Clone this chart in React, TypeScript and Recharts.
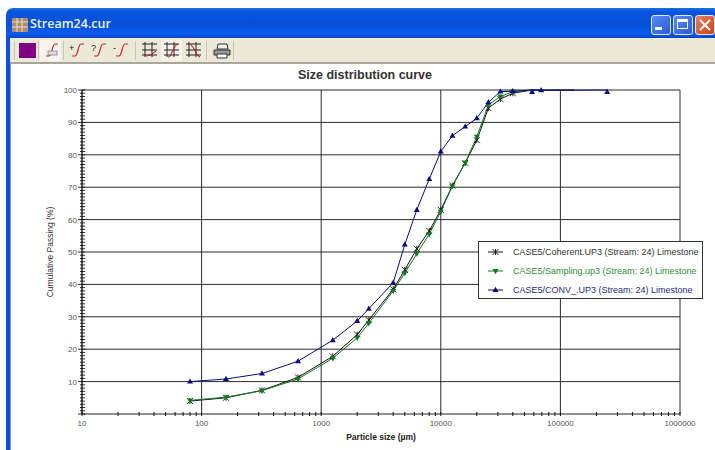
import React from "react";
import {
  LineChart,
  Line,
  XAxis,
  YAxis,
  CartesianGrid,
  Legend,
} from "recharts";

const sizes = [80, 160, 320, 640, 1250, 2000, 2500, 4000, 5000, 6300, 8000, 10000, 12500, 16000, 20000, 25000, 31500, 40000, 58000, 69000];
const coherentSizes = [...sizes, 130000];
const conventionalSizes = [...sizes, 246000];

const coherent = [4, 5, 7.3, 11.3, 17.8, 24.5, 29, 38.5, 44.5, 51, 56.5, 63, 70.5, 77.5, 84.5, 94.4, 97.2, 99, 100, 100, 100];
const sampling = [4.2, 5.2, 7.2, 10.8, 17.2, 23.5, 28, 38, 43.5, 49.5, 55.5, 62.5, 70.3, 77.5, 85.6, 95.4, 98, 99.5, 100, 100];
const conventional = [10, 10.8, 12.5, 16.3, 22.8, 28.7, 32.5, 40.5, 52.3, 63, 72.5, 81, 85.9, 88.7, 91.3, 96.2, 99.5, 99.6, 100, 99.9, 100];

const seriesNames = [
  "CASE5/Coherent.UP3 (Stream: 24) Limestone",
  "CASE5/Sampling.up3 (Stream: 24) Limestone",
  "CASE5/CONV_.UP3 (Stream: 24) Limestone",
];
const seriesColors = ["#111111", "#0f7a1e", "#0b0b80"];
const seriesMarkers = ["star", "down", "up"];

const majorX = [10, 100, 1000, 10000, 100000, 1000000];
const minorSteps = [1, 2, 3, 4, 5, 6, 7, 8, 9];
const allX = majorX.flatMap((d) => (d === 1000000 ? [d] : minorSteps.map((s) => s * d)));
const majorY = [10, 20, 30, 40, 50, 60, 70, 80, 90, 100];
const allY = Array.from({ length: 101 }, (_, i) => i);

const toRows = (xs: number[], ys: number[]) => xs.map((size, i) => ({ size, pct: ys[i] }));

const font = "'Liberation Sans', Arial, sans-serif";

function Marker({ kind, cx, cy, color }: { kind: string; cx: number; cy: number; color: string }) {
  if (kind === "up") {
    return <path d={`M${cx} ${cy - 3.2}L${cx + 3} ${cy + 2}L${cx - 3} ${cy + 2}Z`} fill={color} />;
  }
  if (kind === "down") {
    return <path d={`M${cx} ${cy + 3.2}L${cx + 3} ${cy - 2}L${cx - 3} ${cy - 2}Z`} fill={color} />;
  }
  return (
    <path
      d={`M${cx - 3} ${cy - 3}L${cx + 3} ${cy + 3}M${cx + 3} ${cy - 3}L${cx - 3} ${cy + 3}M${cx} ${cy - 3}V${cy + 3}`}
      stroke={color}
      strokeWidth={0.9}
      fill="none"
    />
  );
}

// the markers sitting on the 100% line only show below it in the original
function dotFor(i: number) {
  return (p: any) => {
    const top = p.payload.pct >= 100;
    if (top && i !== 2) return <g key={`${i}-${p.index}`} />;
    return <Marker key={`${i}-${p.index}`} kind={seriesMarkers[i]} cx={p.cx} cy={top ? p.cy + 2 : p.cy} color={seriesColors[i]} />;
  };
}

function XTick(props: any) {
  const { x, y, payload } = props;
  const major = majorX.includes(payload.value);
  return (
    <g>
      <line x1={x} x2={x} y1={y - 2} y2={y + 2} stroke="#111" strokeWidth={1} />
      {major && (
        <text x={x} y={y + 12} textAnchor="middle" fontSize={8} fontFamily={font} fill="#555">
          {payload.value}
        </text>
      )}
    </g>
  );
}

function YTick(props: any) {
  const { x, y, payload } = props;
  const major = majorY.includes(payload.value);
  return (
    <g>
      <line x1={x - (major || payload.value === 0 ? 4 : 2)} x2={x + 3} y1={y} y2={y} stroke="#111" strokeWidth={0.9} />
      {major && (
        <text x={x - 5} y={y + 3} textAnchor="end" fontSize={8} fontFamily={font} fill="#555">
          {payload.value}
        </text>
      )}
    </g>
  );
}

function LegendBox() {
  return (
    <div
      style={{
        boxSizing: "border-box",
        width: 225,
        height: 58,
        background: "#fff",
        border: "1px solid #333",
        fontFamily: font,
        fontSize: 9,
      }}
    >
      {seriesNames.map((name, i) => (
        <div key={name} style={{ display: "flex", alignItems: "center", height: 19, color: seriesColors[i] }}>
          <svg width={34} height={10} style={{ flex: "none" }}>
            <line x1={9} x2={24} y1={5} y2={5} stroke={seriesColors[i]} strokeWidth={1} />
            <Marker kind={seriesMarkers[i]} cx={16.5} cy={5} color={seriesColors[i]} />
          </svg>
          <span style={{ whiteSpace: "nowrap", color: i === 0 ? "#333" : i === 1 ? "#2f8f3a" : "#2a2a80" }}>{name}</span>
        </div>
      ))}
    </div>
  );
}

function Curve({ sign, box }: { sign?: string; box?: boolean }) {
  return (
    <svg width={16} height={18} style={{ display: "block" }}>
      <path d="M3 15H6C9 15 9 3 12 3H15" stroke="#c8242c" strokeWidth={1.2} fill="none" />
      {sign && (
        <text x={0} y={10} fontSize={9} fontFamily={font} fill="#222">
          {sign}
        </text>
      )}
      {box && <rect x={5} y={10} width={9} height={4} fill="#ddd" stroke="#777" strokeWidth={0.7} />}
    </svg>
  );
}

function GridIcon({ variant }: { variant: number }) {
  const curve = ["M5 15C9 15 11 13 15 10", "M5 16C9 16 10 4 15 3", "M4 3C9 3 10 14 15 16"][variant];
  return (
    <svg width={17} height={18} style={{ display: "block" }}>
      <path d="M1 3H16M1 9H16M1 14H16M4 1V16M11 1V16" stroke="#222" strokeWidth={1} fill="none" />
      <path d={curve} stroke="#c8242c" strokeWidth={1.1} fill="none" />
    </svg>
  );
}

function Printer() {
  return (
    <svg width={18} height={16} style={{ display: "block" }}>
      <path d="M5 1H14L15 6H4Z" fill="#eee" stroke="#333" />
      <path d="M1 7H17V12H1Z" fill="#999" stroke="#333" />
      <path d="M4 11H14V15H4Z" fill="#fff" stroke="#333" />
    </svg>
  );
}

function Toolbar() {
  const at = (left: number, top: number, child: React.ReactNode) => (
    <div style={{ position: "absolute", left, top }}>{child}</div>
  );
  const seps = [14, 38, 63, 135, 206, 233];
  return (
    <div
      style={{
        position: "absolute",
        left: 10,
        top: 38,
        width: 705,
        height: 24,
        background: "#ece9d8",
        borderBottom: "2px solid #a8a698",
      }}
    >
      {seps.map((x) => (
        <div key={x} style={{ position: "absolute", left: x - 10, top: 3, width: 1, height: 19, background: "#c8c5b4" }} />
      ))}
      <div style={{ position: "absolute", left: 9, top: 5, width: 17, height: 15, background: "#800080" }} />
      <div style={{ position: "absolute", left: 30, top: 2, width: 21, height: 21, background: "#f6f4ec" }} />
      {at(33, 3, <Curve box />)}
      {at(59, 3, <Curve sign="+" />)}
      {at(81, 3, <Curve sign="?" />)}
      {at(103, 3, <Curve sign="-" />)}
      <div style={{ position: "absolute", left: 151, top: 2, width: 21, height: 21, background: "#f6f4ec" }} />
      {at(131, 3, <GridIcon variant={0} />)}
      {at(153, 3, <GridIcon variant={1} />)}
      {at(175, 3, <GridIcon variant={2} />)}
      {at(203, 5, <Printer />)}
    </div>
  );
}

function WinButton({ left, bg, children }: { left: number; bg: string; children: React.ReactNode }) {
  return (
    <div
      style={{
        position: "absolute",
        left,
        top: 15,
        width: 18,
        height: 18,
        borderRadius: 3,
        border: "1px solid #dfe8fb",
        background: bg,
      }}
    >
      {children}
    </div>
  );
}

function TitleBar() {
  return (
    <div
      style={{
        position: "absolute",
        left: 6,
        top: 8,
        width: 709,
        height: 30,
        borderRadius: "7px 0 0 0",
        background: "linear-gradient(#1f6fe0 0%, #0a55e0 12%, #0450d8 55%, #0a5cf0 85%, #0345c0 100%)",
      }}
    >
      <svg width={16} height={14} style={{ position: "absolute", left: 6, top: 10 }}>
        <path d="M0 0H16V14H0Z" fill="#b08a6a" />
        <path d="M0 4H16M0 9H16M5 0V14M10 0V14" stroke="#e8e2d8" strokeWidth={1} />
      </svg>
      <div style={{ position: "absolute", left: 24, top: 7, fontFamily: "'Open Sans', sans-serif", fontWeight: 600, fontSize: 12.5, color: "#eef4ff" }}>
        Stream24.cur
      </div>
    </div>
  );
}

export default function App() {
  return (
    <div style={{ position: "absolute", left: 0, top: 0, width: 715, height: 450, overflow: "hidden", background: "#fff" }}>
      <TitleBar />
      <WinButton left={651} bg="linear-gradient(135deg,#5a8cf0,#2a5ad8)">
        <div style={{ position: "absolute", left: 3, top: 11, width: 7, height: 3, background: "#fff" }} />
      </WinButton>
      <WinButton left={673} bg="linear-gradient(135deg,#5a8cf0,#2a5ad8)">
        <div style={{ position: "absolute", left: 3, top: 3, width: 11, height: 10, border: "1px solid #fff", borderTopWidth: 3, boxSizing: "border-box" }} />
      </WinButton>
      <WinButton left={695} bg="linear-gradient(135deg,#e8805a,#d0401a)">
        <svg width={18} height={18} style={{ position: "absolute", left: 0, top: 0 }}>
          <path d="M4 4L14 14M14 4L4 14" stroke="#fff" strokeWidth={2} />
        </svg>
      </WinButton>
      <div style={{ position: "absolute", left: 6, top: 38, width: 4, height: 412, background: "#0a4fe0" }} />
      <div style={{ position: "absolute", left: 10, top: 38, width: 1, height: 412, background: "#8a9ab8" }} />
      <Toolbar />
      <div
        style={{
          position: "absolute",
          left: 0,
          width: 730,
          top: 68,
          textAlign: "center",
          fontFamily: font,
          fontWeight: "bold",
          fontSize: 12.5,
          color: "#333",
        }}
      >
        Size distribution curve
      </div>
      <div style={{ position: "absolute", left: 0, top: 0 }}>
        <LineChart width={715} height={450} margin={{ top: 90, right: 35, bottom: 0, left: 0 }}>
          <CartesianGrid
            stroke="#2a2a2a"
            strokeWidth={1}
            horizontalValues={majorY}
            verticalValues={majorX}
          />
          <XAxis
            dataKey="size"
            type="number"
            scale="log"
            domain={[10, 1000000]}
            ticks={allX}
            interval={0}
            height={36}
            tickLine={false}
            tickSize={0}
            tickMargin={0}
            tick={<XTick />}
            stroke="#222"
            allowDuplicatedCategory={false}
            label={{
              value: "Particle size (µm)",
              position: "insideBottom",
              offset: 10,
              fontSize: 8.5,
              fontWeight: "bold",
              fontFamily: font,
              fill: "#222",
            }}
          />
          <YAxis
            type="number"
            domain={[0, 100]}
            ticks={allY}
            interval={0}
            width={82}
            tickLine={false}
            tickSize={0}
            tickMargin={0}
            tick={<YTick />}
            stroke="#222"
            label={{
              value: "Cumulative Passing (%)",
              angle: -90,
              position: "insideLeft",
              offset: 50,
              fontSize: 8.5,
              fontFamily: font,
              fill: "#333",
              style: { textAnchor: "middle" },
            }}
          />
          <Legend
            layout="horizontal"
            verticalAlign="middle"
            align="center"
            content={<LegendBox />}
            wrapperStyle={{ left: 478, top: 241, width: 225, height: 58 }}
          />
          <Line
            data={toRows(coherentSizes, coherent)}
            dataKey="pct"
            name={seriesNames[0]}
            stroke={seriesColors[0]}
            strokeWidth={1}
            dot={dotFor(0)}
            isAnimationActive={false}
          />
          <Line
            data={toRows(sizes, sampling)}
            dataKey="pct"
            name={seriesNames[1]}
            stroke={seriesColors[1]}
            strokeWidth={1}
            dot={dotFor(1)}
            isAnimationActive={false}
          />
          <Line
            data={toRows(conventionalSizes, conventional)}
            dataKey="pct"
            name={seriesNames[2]}
            stroke={seriesColors[2]}
            strokeWidth={1}
            dot={dotFor(2)}
            isAnimationActive={false}
          />
        </LineChart>
      </div>
    </div>
  );
}
